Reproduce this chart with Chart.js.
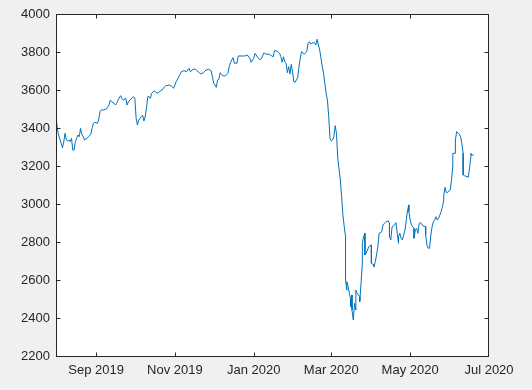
<!DOCTYPE html>
<html>
<head>
<meta charset="utf-8">
<script src="https://cdn.jsdelivr.net/npm/chart.js@4.4.1/dist/chart.umd.min.js"></script>
<style>
  html, body { margin: 0; padding: 0; background: #f0f0f0; }
  #wrap { width: 532px; height: 390px; }
</style>
</head>
<body>
<div id="wrap"><canvas id="grafico" width="532" height="390"></canvas></div>
<script>
// dias contados a partir de 1 ago 2019
const dayNum = [-1, 1, 2, 4, 5, 6, 7, 8, 9, 10, 11, 12, 13, 14, 15, 16, 17, 18, 19, 20,
  21, 22, 24, 25, 27, 28, 29, 30, 32, 33, 34, 35, 37, 39, 41, 42, 43, 45, 46, 47,
  48, 50, 51, 52, 54, 55, 56, 58, 60, 61, 62, 63, 64, 65, 66, 67, 68, 69, 70, 71,
  72, 73, 74, 76, 77, 79, 80, 82, 83, 85, 88, 90, 91, 92, 93, 95, 97, 99, 101, 103,
  104, 106, 108, 110, 112, 114, 116, 118, 120, 121, 122, 124, 125, 126, 127, 128, 129, 131, 133, 134,
  135, 136, 137, 138, 140, 141, 144, 146, 148, 150, 151, 153, 154, 156, 158, 159, 161, 162, 165, 167,
  168, 169, 171, 173, 174, 175, 176, 177, 178, 179, 180, 181, 182, 183, 184, 185, 186, 187, 188, 189,
  190, 191, 192, 194, 195, 196, 197, 199, 200, 201, 202, 203, 204, 205, 206, 207, 208, 209, 210, 211,
  212, 213, 214, 215, 216, 217, 218, 220, 221, 222, 223, 224, 224, 225, 225, 226, 227, 228, 228, 229,
  229, 230, 231, 232, 232, 233, 234, 235, 235, 236, 237, 237, 238, 239, 239, 240, 241, 242, 244, 244,
  246, 246, 247, 248, 249, 250, 252, 253, 254, 255, 257, 258, 258, 259, 260, 262, 263, 264, 265, 265,
  266, 267, 268, 269, 270, 271, 272, 273, 273, 274, 275, 277, 277, 278, 279, 280, 281, 282, 284, 286,
  286, 287, 288, 289, 290, 291, 292, 293, 294, 295, 296, 297, 298, 299, 300, 300, 301, 302, 303, 304,
  305, 306, 307, 307, 309, 309, 310, 311, 312, 313, 314, 315, 315, 316, 318, 319, 320, 321, 321, 322,
  323, 323]

const price = [3540, 3398, 3363, 3320, 3296, 3328, 3372, 3337, 3332, 3337, 3328, 3346, 3284, 3284, 3328, 3346, 3363, 3354, 3398, 3367,
  3354, 3337, 3346, 3354, 3367, 3402, 3425, 3430, 3425, 3442, 3486, 3495, 3495, 3500, 3521, 3547, 3538, 3530, 3521, 3530,
  3547, 3570, 3556, 3547, 3556, 3521, 3538, 3553, 3565, 3556, 3451, 3416, 3442, 3451, 3460, 3468, 3437, 3460, 3504, 3565,
  3565, 3556, 3583, 3596, 3588, 3583, 3591, 3600, 3609, 3623, 3626, 3617, 3609, 3626, 3644, 3670, 3696, 3702, 3696, 3714,
  3696, 3709, 3709, 3696, 3684, 3691, 3705, 3709, 3702, 3670, 3635, 3614, 3653, 3656, 3691, 3683, 3674, 3674, 3688, 3723,
  3744, 3758, 3770, 3741, 3741, 3779, 3779, 3779, 3784, 3767, 3746, 3767, 3793, 3772, 3758, 3767, 3796, 3789, 3788, 3779,
  3775, 3807, 3805, 3793, 3775, 3746, 3775, 3749, 3741, 3691, 3723, 3684, 3735, 3696, 3644, 3641, 3653, 3665, 3723, 3767,
  3802, 3796, 3789, 3802, 3846, 3854, 3842, 3849, 3849, 3837, 3867, 3837, 3811, 3767, 3723, 3688, 3635, 3583, 3547, 3460,
  3342, 3332, 3337, 3354, 3412, 3372, 3240, 3126, 3038, 2940, 2881, 2828, 2600, 2547, 2591, 2565, 2530, 2495, 2460, 2521,
  2442, 2390, 2477, 2442, 2547, 2530, 2521, 2512, 2486, 2583, 2688, 2793, 2828, 2846, 2732, 2741, 2758, 2775, 2784, 2688,
  2679, 2670, 2696, 2732, 2775, 2846, 2854, 2890, 2898, 2904, 2912, 2898, 2828, 2811, 2879, 2890, 2902, 2846, 2793, 2828,
  2846, 2820, 2811, 2837, 2863, 2916, 2968, 2995, 2960, 2916, 2890, 2872, 2820, 2863, 2872, 2846, 2898, 2902, 2884, 2881,
  2837, 2784, 2767, 2767, 2837, 2881, 2907, 2916, 2933, 2916, 2925, 2942, 2960, 2986, 3021, 3047, 3088, 3060, 3060, 3070,
  3074, 3126, 3205, 3267, 3267, 3337, 3381, 3375, 3368, 3354, 3320, 3267, 3153, 3149, 3144, 3141, 3193, 3249, 3267, 3254,
  3262, 3263]

const tickDays = [31, 92, 153, 213, 274, 335]
const tickLabels = ['Sep 2019', 'Nov 2019', 'Jan 2020', 'Mar 2020', 'May 2020', 'Jul 2020']

const corEixo = '#262626'
const fonte = { family: "'Liberation Sans', Arial, sans-serif", size: 13 }

// fundo branco so na area do grafico
const fundo = {
    id: 'fundo',
    beforeDraw(chart) {
        const { ctx, chartArea: a } = chart
        ctx.save()
        ctx.fillStyle = '#ffffff'
        ctx.fillRect(a.left, a.top, a.right - a.left, a.bottom - a.top)
        ctx.restore()
    }
}

// caixa em volta + marcas pra dentro, estilo matlab
const caixa = {
    id: 'caixa',
    afterDatasetsDraw(chart) {
        const { ctx, chartArea: a, scales } = chart
        const L = a.left + 0.5, R = a.right - 0.5, T = a.top + 0.5, B = a.bottom + 0.5
        ctx.save()
        ctx.strokeStyle = corEixo
        ctx.lineWidth = 1
        ctx.strokeRect(L, T, R - L, B - T)
        ctx.beginPath()
        scales.x.ticks.forEach(t => {
            let px = Math.min(Math.round(scales.x.getPixelForValue(t.value)) + 0.5, R)
            ctx.moveTo(px, B); ctx.lineTo(px, B - 4)
            ctx.moveTo(px, T); ctx.lineTo(px, T + 4)
        })
        scales.y.ticks.forEach(t => {
            let py = Math.min(Math.round(scales.y.getPixelForValue(t.value)) + 0.5, B)
            ctx.moveTo(L, py); ctx.lineTo(L + 4, py)
            ctx.moveTo(R, py); ctx.lineTo(R - 4, py)
        })
        ctx.stroke()
        ctx.restore()
    }
}

new Chart(document.getElementById('grafico'), {
    type: 'line',
    data: {
        datasets: [{
            data: dayNum.map((d, i) => ({ x: d, y: price[i] })),
            borderColor: '#0072bd',
            borderWidth: 1,
            pointRadius: 0,
            tension: 0,
            fill: false
        }]
    },
    options: {
        responsive: false,
        animation: false,
        devicePixelRatio: 1,
        layout: { padding: { top: 14, right: 43, left: 0, bottom: 0 } },
        plugins: { legend: { display: false }, tooltip: { enabled: false } },
        scales: {
            x: {
                type: 'linear',
                min: 0,
                max: 335,
                grid: { display: false, drawTicks: false },
                border: { display: false },
                afterBuildTicks: (s) => { s.ticks = tickDays.map(v => ({ value: v })) },
                afterFit: (s) => { s.height = 34 },
                ticks: {
                    autoSkip: false,
                    maxRotation: 0,
                    padding: 7,
                    color: corEixo,
                    font: fonte,
                    callback: (v, i) => tickLabels[i]
                }
            },
            y: {
                min: 2200,
                max: 4000,
                grid: { display: false, drawTicks: false },
                border: { display: false },
                afterFit: (s) => { s.width = 56 },
                ticks: {
                    stepSize: 200,
                    padding: 6,
                    color: corEixo,
                    font: fonte,
                    callback: (v) => String(v)
                }
            }
        }
    },
    plugins: [fundo, caixa]
})
</script>
</body>
</html>
